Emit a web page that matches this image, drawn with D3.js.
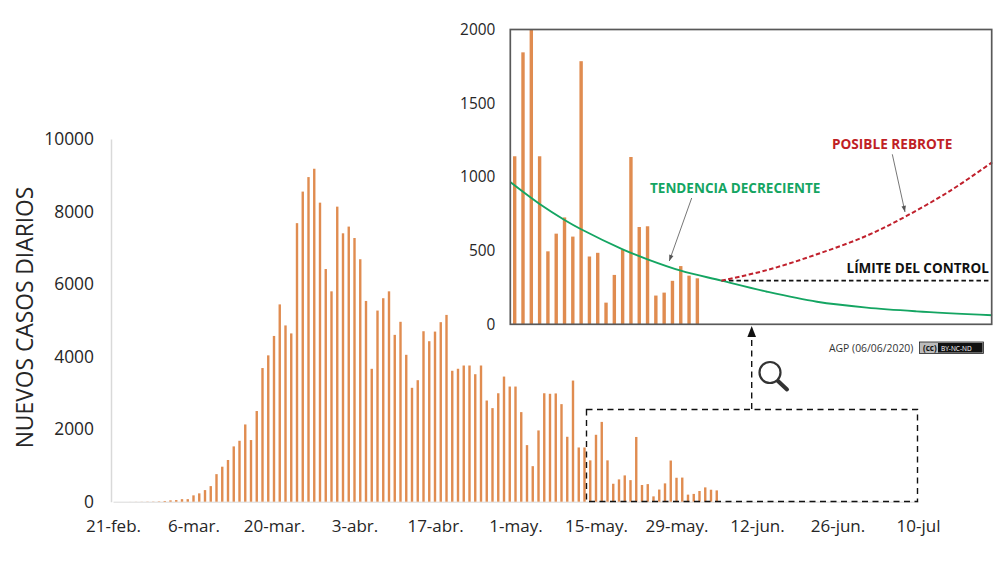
<!DOCTYPE html>
<html>
<head>
<meta charset="utf-8">
<script src="https://cdn.jsdelivr.net/npm/d3@7/dist/d3.min.js"></script>
<style>
	html, body { margin: 0; padding: 0; background: #fff; }
	svg { display: block; }
	text { font-family: "Open Sans", sans-serif; fill: #262626; }
	.lab { font-weight: 700; }
</style>
</head>
<body>
<script>
"use strict";

// daily cases, one per day starting on 21-feb (index 0)
var dailyCases = [
	0, 0, 0, 1, 2, 3, 5, 6, 10, 20, 37, 45, 70, 70,
	175, 230, 320, 430, 760, 965, 1150, 1525, 1680, 2130, 1700, 2500, 3685, 4035,
	4570, 5440, 4860, 4640, 7680, 8550, 8950, 9180, 8245, 6415, 5800, 8135, 7400, 7585,
	7270, 6685, 5535, 3664, 5270, 5610, 5800, 4600, 4960, 4050, 3140, 3350, 4700, 4425,
	4690, 4950, 5150, 3610, 3665, 3755, 3755, 3515, 3755, 2790, 2580, 2990, 3450, 3175,
	3175, 2470, 1560, 980, 1965, 2990, 2975, 2985, 2690, 1790, 3340, 1495, 1495, 1140,
	1845, 2200, 1140, 495, 615, 725, 595, 1785, 460, 485, 147, 335, 505, 1135,
	660, 665, 195, 215, 295, 395, 330, 312
];

var tickDays = [0, 14, 28, 42, 56, 70, 84, 98, 112, 126, 140];
var tickLabels = ["21-feb.", "6-mar.", "20-mar.", "3-abr.", "17-abr.", "1-may.", "15-may.", "29-may.", "12-jun.", "26-jun.", "10-jul"];
var mainYTicks = [0, 2000, 4000, 6000, 8000, 10000];
var insetYTicks = [0, 500, 1000, 1500, 2000];

// curves: [day index, cases]
var trendLine = [[82.5, 963], [86, 816], [89, 708], [91, 645], [96, 509], [99, 441], [103, 364], [107.9, 296],
	[113.4, 221], [119.4, 153], [125.4, 113], [131.4, 88], [140.5, 61]];
var reboundLine = [[107.9, 296], [113.4, 368], [119.4, 475], [125.4, 601], [130.2, 735], [135.4, 904], [140.5, 1099]];
var limitValue = 296;
var limitFrom = 107.9;

var barColor = "#e08c50";

var svg = d3.select("body").append("svg")
	.attr("width", 1000)
	.attr("height", 567);

// Main chart
var x = d3.scaleLinear().domain([0, 140]).range([113, 918]);
var y = d3.scaleLinear().domain([0, 10000]).range([501.7, 139]);

var yAxis = d3.axisLeft(y).tickValues(mainYTicks).tickSize(0).tickPadding(17).tickFormat(d3.format("d"));
var xAxis = d3.axisBottom(x).tickValues(tickDays).tickSize(0).tickPadding(18)
	.tickFormat(function (d, i) { return tickLabels[i]; });

var gy = svg.append("g").attr("transform", "translate(111,0)").call(yAxis);
gy.select(".domain").attr("stroke", "#d9d9d9").attr("stroke-width", 1.5);
gy.selectAll("text").style("font-size", "17.4px").style("font-family", "Open Sans").style("fill", "#262626");

var gx = svg.append("g").attr("transform", "translate(0,501.7)").call(xAxis);
gx.select(".domain").attr("stroke", "#d9d9d9").attr("stroke-width", 1);
gx.selectAll("text").style("font-size", "17px").style("font-family", "Open Sans").style("fill", "#262626");

svg.append("g").selectAll("rect")
	.data(dailyCases)
	.join("rect")
	.attr("x", function (d, i) { return x(i) - 1.2; })
	.attr("y", function (d) { return y(d); })
	.attr("width", 2.4)
	.attr("height", function (d) { return y(0) - y(d); })
	.attr("fill", barColor);

svg.append("text")
	.attr("transform", "translate(33,317.5) rotate(-90)")
	.attr("text-anchor", "middle")
	.style("font-size", "22.8px")
	.text("NUEVOS CASOS DIARIOS");

// Zoom box and its connector
var dash = "6,4.5";
svg.append("rect")
	.attr("x", 586.5).attr("y", 409.5).attr("width", 331).attr("height", 92)
	.attr("fill", "none").attr("stroke", "#111").attr("stroke-width", 1.4).attr("stroke-dasharray", dash);
svg.append("line")
	.attr("x1", 751.7).attr("x2", 751.7).attr("y1", 409).attr("y2", 335)
	.attr("stroke", "#111").attr("stroke-width", 1.4).attr("stroke-dasharray", dash);
svg.append("path")
	.attr("d", "M751.7,326 L756,337 L747.4,337 Z")
	.attr("fill", "#111");

// Magnifier
var lens = svg.append("g");
lens.append("line")
	.attr("x1", 778).attr("y1", 381).attr("x2", 787).attr("y2", 389.5)
	.attr("stroke", "#333").attr("stroke-width", 4).attr("stroke-linecap", "round");
lens.append("circle")
	.attr("cx", 770).attr("cy", 372.5).attr("r", 10.5)
	.attr("fill", "#fff").attr("stroke", "#333").attr("stroke-width", 2.2);

// Inset chart
var ix = d3.scaleLinear().domain([82.47, 140.45]).range([510.3, 991.7]);
var iy = d3.scaleLinear().domain([0, 2000]).range([324.3, 29.5]);

var inset = svg.append("g");
var insetAxis = d3.axisLeft(iy).tickValues(insetYTicks).tickSize(0).tickPadding(15).tickFormat(d3.format("d"));
var giy = inset.append("g").attr("transform", "translate(510.3,0)").call(insetAxis);
giy.select(".domain").remove();
giy.selectAll("text").style("font-size", "15.4px").style("font-family", "Open Sans").style("fill", "#262626");

var insetCases = dailyCases.map(function (d, i) { return { day: i, value: d }; })
	.filter(function (d) { return d.day >= 83; });

inset.append("g").selectAll("rect")
	.data(insetCases)
	.join("rect")
	.attr("x", function (d) { return ix(d.day) - 1.7; })
	.attr("y", function (d) { return iy(Math.min(d.value, 2000)); })
	.attr("width", 3.4)
	.attr("height", function (d) { return iy(0) - iy(Math.min(d.value, 2000)); })
	.attr("fill", barColor);

var curve = d3.line()
	.x(function (d) { return ix(d[0]); })
	.y(function (d) { return iy(d[1]); })
	.curve(d3.curveCatmullRom.alpha(0.5));

inset.append("line")
	.attr("x1", ix(limitFrom)).attr("x2", ix(140.45))
	.attr("y1", iy(limitValue)).attr("y2", iy(limitValue))
	.attr("stroke", "#111").attr("stroke-width", 1.7).attr("stroke-dasharray", "4.5,3");
inset.append("path")
	.attr("d", curve(trendLine))
	.attr("fill", "none").attr("stroke", "#14a562").attr("stroke-width", 1.9);
inset.append("path")
	.attr("d", curve(reboundLine))
	.attr("fill", "none").attr("stroke", "#c0202c").attr("stroke-width", 2).attr("stroke-dasharray", "4.5,2.5");

inset.append("rect")
	.attr("x", 510.3).attr("y", 29.5).attr("width", 481.4).attr("height", 294.8)
	.attr("fill", "none").attr("stroke", "#595959").attr("stroke-width", 1.7);

// Annotations
function arrow(x1, y1, x2, y2) {
	var a = Math.atan2(y2 - y1, x2 - x1);
	var s = 6.5, w = 0.35;
	svg.append("line")
		.attr("x1", x1).attr("y1", y1).attr("x2", x2).attr("y2", y2)
		.attr("stroke", "#666").attr("stroke-width", 0.9);
	svg.append("path")
		.attr("d", "M" + x2 + "," + y2
			+ "L" + (x2 - s * Math.cos(a - w)) + "," + (y2 - s * Math.sin(a - w))
			+ "L" + (x2 - s * Math.cos(a + w)) + "," + (y2 - s * Math.sin(a + w)) + "Z")
		.attr("fill", "#555");
}
arrow(691.7, 198, 669.3, 261);
arrow(892.3, 154.3, 905, 212);

svg.append("text").attr("class", "lab").attr("x", 650).attr("y", 193)
	.style("font-size", "13.5px").style("fill", "#14a562").text("TENDENCIA DECRECIENTE");
svg.append("text").attr("class", "lab").attr("x", 832).attr("y", 148.5)
	.style("font-size", "13.6px").style("fill", "#c01f26").text("POSIBLE REBROTE");
svg.append("text").attr("class", "lab").attr("x", 846.5).attr("y", 272.5)
	.style("font-size", "13.5px").style("fill", "#111").text("LÍMITE DEL CONTROL");

svg.append("text").attr("x", 829).attr("y", 352)
	.style("font-size", "10.4px").style("fill", "#333").text("AGP (06/06/2020)");

// CC badge
var badge = svg.append("g");
badge.append("rect").attr("x", 919.5).attr("y", 342).attr("width", 64).attr("height", 11.5)
	.attr("fill", "#bbb").attr("stroke", "#222").attr("stroke-width", 0.8);
badge.append("rect").attr("x", 938).attr("y", 343).attr("width", 44.5).attr("height", 9.5).attr("fill", "#111");
badge.append("text").attr("x", 923).attr("y", 351)
	.style("font-size", "8px").style("font-weight", "700").style("fill", "#111").text("(cc)");
badge.append("text").attr("x", 941).attr("y", 350.6)
	.style("font-size", "6.5px").style("fill", "#fff").text("BY-NC-ND");
</script>
</body>
</html>
